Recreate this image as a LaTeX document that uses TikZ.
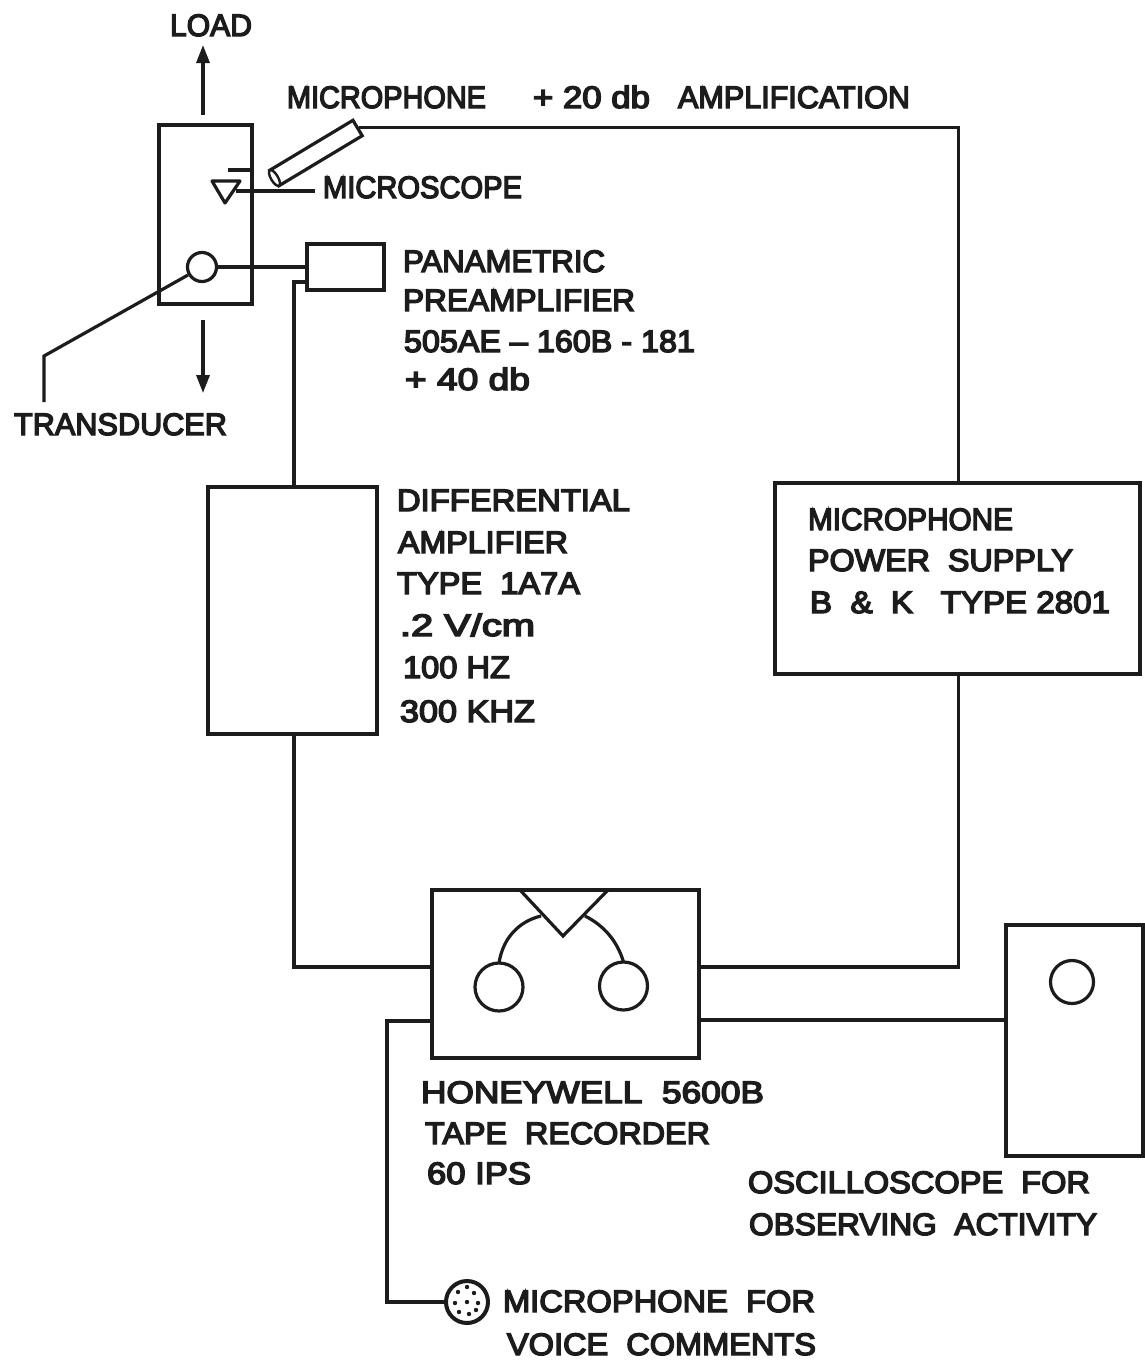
\documentclass[tikz,border=0pt]{standalone}
\usepackage{fontspec}
\usepackage{graphicx}
\usetikzlibrary{arrows.meta,shapes.geometric}
\newfontfamily\lblfont[FakeBold=4.5]{Liberation Sans}
\definecolor{ink}{HTML}{1C1C1C}
\newsavebox{\fitbox}
\newcommand{\fitw}[2]{\sbox{\fitbox}{#2}\scalebox{\fpeval{#1/\wd\fitbox}}[1]{\usebox{\fitbox}}}
\newcommand{\lab}[5]{\node[lbl] (#1) at (#2,#3) {\fitw{#4}{#5}};}
\tikzset{
  x=1pt,y=-1pt,
  lbl/.style={anchor=base west,inner sep=0pt,outer sep=0pt,text=ink,font=\fontsize{31}{31}\lblfont},
  box/.style={draw=ink,line width=4pt,rectangle,inner sep=0pt,outer sep=0pt},
  wire/.style={draw=ink,line width=3.2pt,line join=miter},
  round/.style={draw=ink,line width=3.2pt,circle,inner sep=0pt,outer sep=0pt,fill=white},
  force/.style={wire,-{Triangle[length=18pt,width=13pt]}}
}
\begin{document}
\begin{tikzpicture}
\useasboundingbox (0,0) rectangle (1145,1361);
\fill[white] (0,0) rectangle (1145,1361);
% boxes
\node[box,minimum width=93pt,minimum height=179pt] (spec) at (205,214) {};
\node[box,minimum width=77pt,minimum height=46pt] (pre) at (345.5,267) {};
\node[box,minimum width=169pt,minimum height=247pt] (amp) at (292.5,610.5) {};
\node[box,minimum width=365pt,minimum height=191pt] (psu) at (957.5,578) {};
\node[box,minimum width=267pt,minimum height=168pt] (rec) at (565.5,974) {};
\node[box,minimum width=137pt,minimum height=231pt] (scope) at (1074.5,1040.5) {};
% tube microphone
\node[draw=ink,line width=3.2pt,rectangle,minimum width=97pt,minimum height=18pt,rotate=31,inner sep=0pt,fill=white] (tube) at (316,153) {};
\node[draw=ink,line width=2.4pt,ellipse,minimum width=7pt,minimum height=18pt,rotate=31,inner sep=0pt,fill=white] (tubeend) at (274.5,178) {};
% circles
\node[round,minimum size=29pt] (trans) at (202,267) {};
\node[round,minimum size=48pt] (reelL) at (499,987) {};
\node[round,minimum size=48pt] (reelR) at (623.5,986) {};
\node[round,minimum size=43pt] (scr) at (1072,982) {};
\node[round,minimum size=42pt,line width=4pt] (vmic) at (467,1302) {};
\foreach \dx/\dy in {0/0,0/-15,-9/-10,7/-9,11/1,9/8,2/12,-8/10,-12/1}
  \fill[ink] (467+\dx,1302+\dy) circle (2.2);
% coordinates
\coordinate (loadA) at (203,115);
\coordinate (loadB) at (203,45);
\coordinate (downA) at (203,320);
\coordinate (downB) at (203,393);
\coordinate (transL) at (188,275);
\coordinate (leadK) at (44,356);
\coordinate (leadE) at (44,402);
\coordinate (preL) at (307,282);
\coordinate (ampT) at (294,487);
\coordinate (ampB) at (294,734);
\coordinate (psuT) at (958.5,482);
\coordinate (psuB) at (958.5,673);
\coordinate (recL1) at (432,967);
\coordinate (recL2) at (432,1021);
\coordinate (recR1) at (699,967);
\coordinate (recR2) at (699,1020);
\coordinate (micK) at (387,1302);
\coordinate (vL) at (520,890);
\coordinate (vA) at (563,936);
\coordinate (vR) at (608,890);
\coordinate (vLm) at (541,916);
\coordinate (vRm) at (585,916);
\coordinate (triA) at (212,181);
\coordinate (triB) at (240,181);
\coordinate (triC) at (225,203);
\coordinate (triE) at (236,191);
\coordinate (stageA) at (228,170);
\coordinate (stageB) at (250,170);
\coordinate (mscE) at (315,191);
% connectors
\draw[force] (loadA) -- (loadB);
\draw[force] (downA) -- (downB);
\draw[wire] (transL) -- (leadK) -- (leadE);
\draw[wire] (trans.east) -- (trans.east -| pre.west);
\draw[wire] (preL) -| (ampT);
\draw[wire] (ampB) |- (recL1);
\draw[wire] (tube.east) -| (psuT);
\draw[wire] (psuB) |- (recR1);
\draw[wire] (recR2) -- (recR2 -| scope.west);
\draw[wire] (recL2) -| (micK) -- (vmic.west);
\draw[wire] (vL) -- (vA) -- (vR);
\draw[wire] (reelL.north) .. controls (503,937) and (520,921) .. (vLm);
\draw[wire] (reelR.north) .. controls (617,940) and (603,925) .. (vRm);
\draw[wire,line join=round] (triA) -- (triB) -- (triC) -- cycle;
\draw[wire] (stageA) -- (stageB);
\draw[wire] (triE) -- (mscE);
% labels
\lab{tLoad}{170}{36}{82}{LOAD}
\lab{tMic}{287}{108}{199}{MICROPHONE}
\lab{tDb}{533}{108}{117}{+ 20 db}
\lab{tAmpl}{678}{108}{232}{AMPLIFICATION}
\lab{tScope}{323}{198}{199}{MICROSCOPE}
\lab{tPan}{403}{272}{202}{PANAMETRIC}
\lab{tPre}{403}{311}{232}{PREAMPLIFIER}
\lab{tCode}{404}{352}{291}{505AE – 160B - 181}
\lab{tForty}{405}{390}{125}{+ 40 db}
\lab{tTrans}{14}{435}{213}{TRANSDUCER}
\lab{tDiff}{397}{511}{233}{DIFFERENTIAL}
\lab{tAmp}{398}{553}{170}{AMPLIFIER}
\lab{tType}{397}{594}{183}{TYPE\ \ 1A7A}
\lab{tVolt}{400}{636}{135}{.2 V/cm}
\lab{tHz}{403}{678}{107}{100 HZ}
\lab{tKhz}{400}{722}{135}{300 KHZ}
\lab{tPsuA}{808}{530}{205}{MICROPHONE}
\lab{tPsuB}{808}{571}{265}{POWER\ \ SUPPLY}
\lab{tPsuC}{810}{613}{300}{B\ \ \&\ \ K\ \ \ TYPE 2801}
\lab{tRecA}{421}{1103}{343}{HONEYWELL\ \ 5600B}
\lab{tRecB}{425}{1144}{285}{TAPE\ \ RECORDER}
\lab{tRecC}{427}{1184}{104}{60 IPS}
\lab{tOscA}{748}{1193}{342}{OSCILLOSCOPE\ \ FOR}
\lab{tOscB}{749}{1235}{348}{OBSERVING\ \ ACTIVITY}
\lab{tVocA}{503}{1312}{312}{MICROPHONE\ \ FOR}
\lab{tVocB}{507}{1355}{309}{VOICE\ \ COMMENTS}
\end{tikzpicture}
\end{document}
